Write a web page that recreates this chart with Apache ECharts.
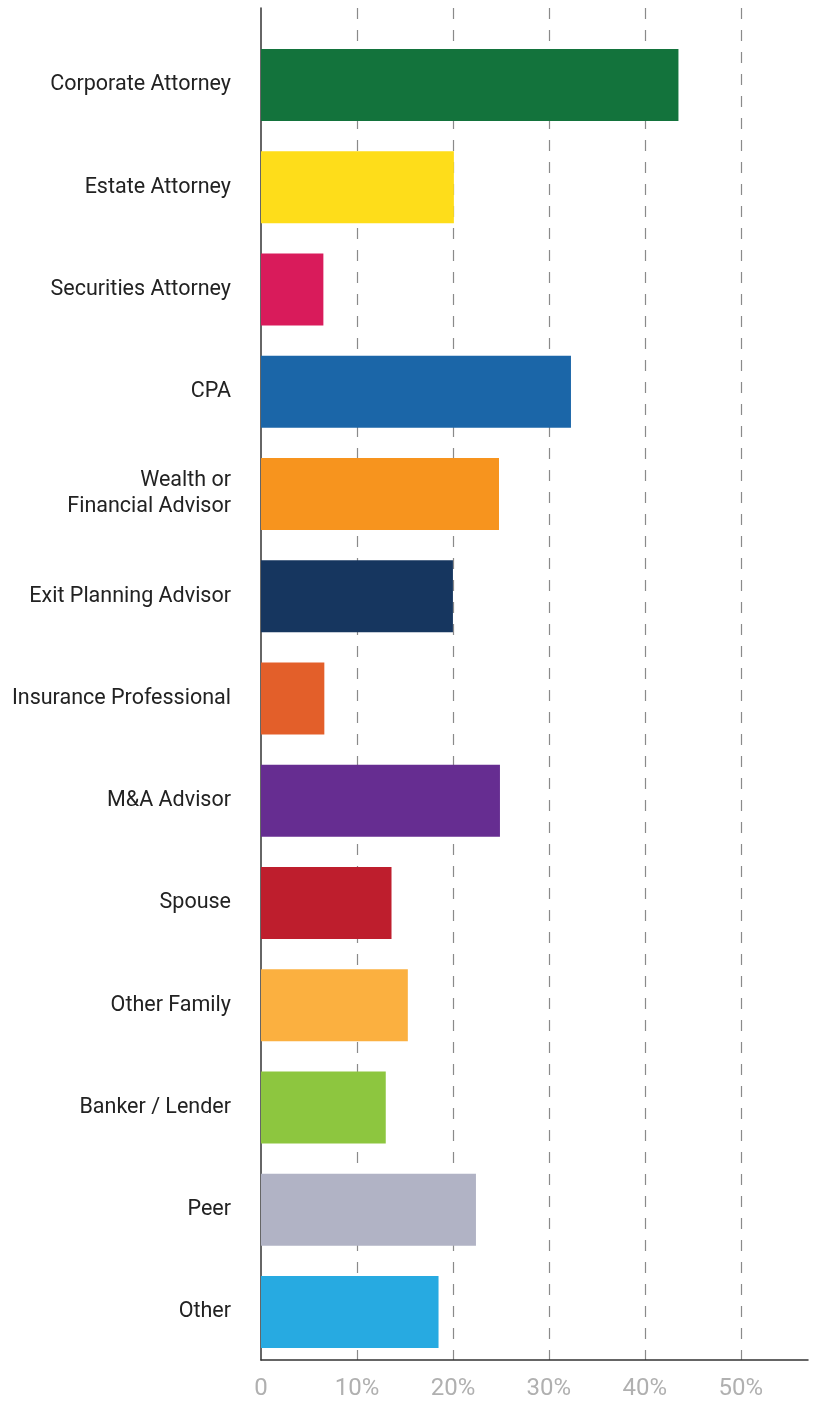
<!DOCTYPE html>
<html>
<head>
<meta charset="utf-8">
<script src="https://cdn.jsdelivr.net/npm/echarts@6/dist/echarts.min.js"></script>
<style>
  html, body { margin: 0; padding: 0; background: #fff; }
  #chart { width: 814px; height: 1401px; }
</style>
</head>
<body>
<div id="chart"></div>
<script>
  // categories, top to bottom
  var categories = [
    'Corporate Attorney', 'Estate Attorney', 'Securities Attorney', 'CPA',
    'Wealth or\nFinancial Advisor', 'Exit Planning Advisor', 'Insurance Professional',
    'M&A Advisor', 'Spouse', 'Other Family', 'Banker / Lender', 'Peer', 'Other'
  ];
  // percent of respondents
  var values = [43.5, 20.1, 6.5, 32.3, 24.8, 20.0, 6.6, 24.9, 13.6, 15.3, 13.0, 22.4, 18.5];
  var barColors = [
    '#13733c', '#fedd1a', '#d91b5b', '#1b66a8', '#f7941e', '#16365f', '#e35f2a',
    '#662d91', '#be1e2d', '#fbb040', '#8dc63f', '#b1b3c5', '#27aae1'
  ];
  var tickValues = [0, 10, 20, 30, 40, 50];

  var chart = echarts.init(document.getElementById('chart'));
  var option = {
    animation: false,
    grid: [
      // frame: axis lines + dashed grid lines
      { left: 261, right: 6, top: 8, bottom: 38 },
      // bars
      { left: 261, right: 6, top: 34, bottom: 38 }
    ],
    xAxis: [
      {
        gridIndex: 0, type: 'value', min: 0, max: 57, interval: 10,
        axisLine: { show: true, lineStyle: { color: '#333', width: 1.5 } },
        axisTick: { show: false },
        axisLabel: {
          showMaxLabel: false,
          margin: 17,
          color: '#b0b0b0',
          fontFamily: 'Roboto',
          fontSize: 24,
          formatter: function (v) {
            if (tickValues.indexOf(v) < 0) return '';
            return v === 0 ? '0' : v + '%';
          }
        },
        splitLine: {
          show: true, showMinLine: false, showMaxLine: false,
          lineStyle: { color: '#8a8a8a', width: 1.2, type: [11, 11] }
        }
      },
      {
        gridIndex: 1, type: 'value', min: 0, max: 57, show: false
      }
    ],
    yAxis: [
      {
        gridIndex: 0, type: 'category', inverse: true, data: categories,
        axisLine: { show: true, lineStyle: { color: '#333', width: 1.5 } },
        axisTick: { show: false },
        axisLabel: { show: false },
        splitLine: { show: false }
      },
      {
        gridIndex: 1, type: 'category', inverse: true, data: categories,
        axisLine: { show: false },
        axisTick: { show: false },
        axisLabel: {
          margin: 30,
          color: '#222',
          fontFamily: 'Roboto',
          fontSize: 21.5,
          lineHeight: 26,
          align: 'right',
          padding: [3, 0, 0, 0]
        }
      }
    ],
    series: [
      {
        type: 'bar',
        xAxisIndex: 1,
        yAxisIndex: 1,
        barWidth: 72,
        data: values.map(function (v, i) {
          return { value: v, itemStyle: { color: barColors[i] } };
        })
      }
    ]
  };
  chart.setOption(option);
</script>
</body>
</html>
